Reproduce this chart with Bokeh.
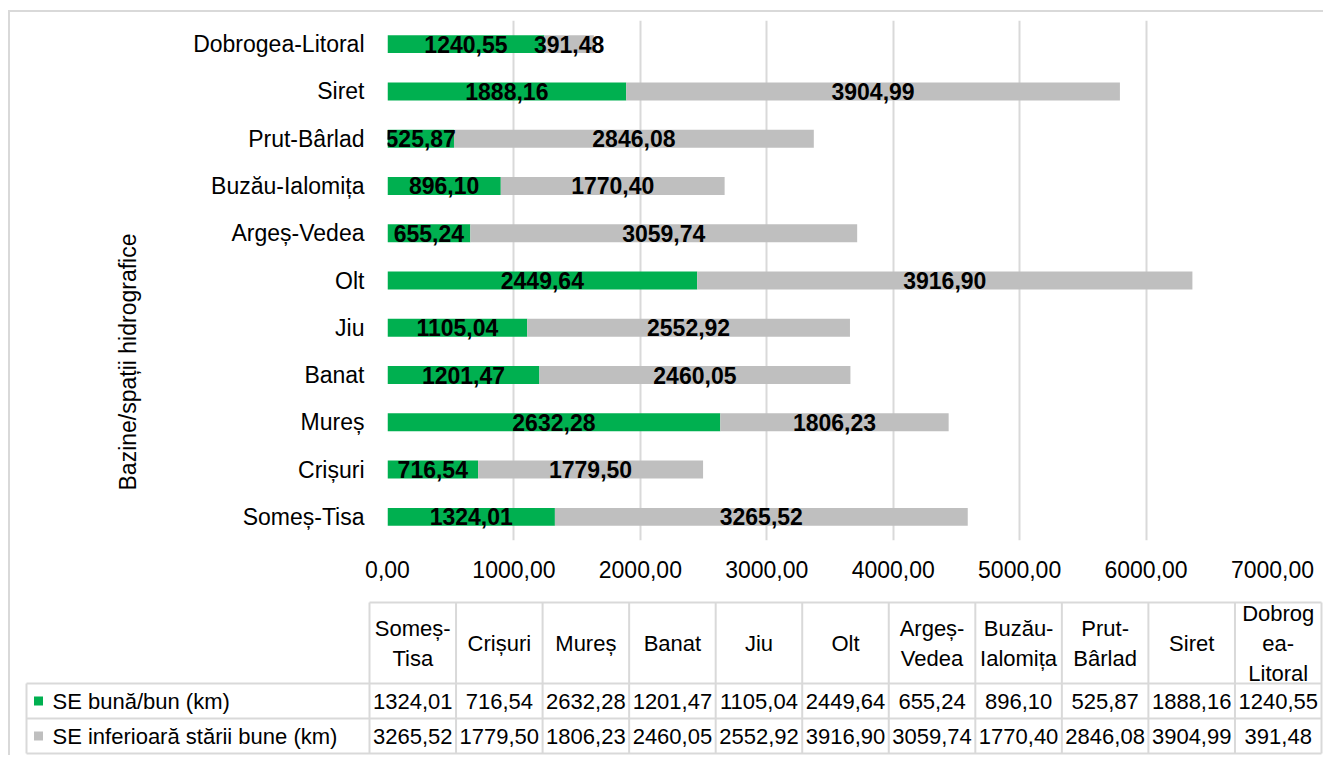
from bokeh.plotting import figure
from bokeh.models import ColumnDataSource, Range1d, FixedTicker, LabelSet, Title
from bokeh.layouts import column
from bokeh.embed import file_html
from bokeh.resources import INLINE
from bokeh.core.properties import value

# ---------------- data ----------------
categories = ["Someș-Tisa", "Crișuri", "Mureș", "Banat", "Jiu", "Olt",
              "Argeș-Vedea", "Buzău-Ialomița", "Prut-Bârlad", "Siret", "Dobrogea-Litoral"]
good = [1324.01, 716.54, 2632.28, 1201.47, 1105.04, 2449.64,
        655.24, 896.10, 525.87, 1888.16, 1240.55]
below = [3265.52, 1779.50, 1806.23, 2460.05, 2552.92, 3916.90,
         3059.74, 1770.40, 2846.08, 3904.99, 391.48]
series_names = ["SE bună/bun (km)", "SE inferioară stării bune (km)"]
axis_title = "Bazine/spații hidrografice"
x_ticks = [0, 1000, 2000, 3000, 4000, 5000, 6000, 7000]

# ---------------- styles ----------------
FONT = "Liberation Sans"
GREEN = "#00b050"
GRAY = "#bfbfbf"
LINE = "#d9d9d9"
W = 1323
HA = 590
HB = 165


def fmt(v):
    return f"{v:.2f}".replace(".", ",")


def wrap(name):
    parts = name.replace("-", "-\n").split("\n")
    out = []
    for p in parts:
        if len(p) > 8:
            out += [p[:6], p[6:]]
        else:
            out.append(p)
    return "\n".join(out)


# ---------------- chart ----------------
total = [g + b for g, b in zip(good, below)]
src = ColumnDataSource(dict(
    cat=categories, good=good, below=below, total=total,
    gmid=[g / 2 for g in good],
    bmid=[g + b / 2 for g, b in zip(good, below)],
    glab=[fmt(g) for g in good],
    blab=[fmt(b) for b in below],
))

pA = figure(width=W, height=HA, y_range=categories, x_range=Range1d(0, 7000),
            output_backend="svg", toolbar_location=None, title=None,
            min_border_left=387, min_border_right=W - 1272, min_border_top=20,
            min_border_bottom=HA - 540)
pA.frame_align = False
pA.border_fill_color = None
pA.background_fill_color = None
pA.outline_line_color = None
pA.ygrid.grid_line_color = None
pA.xgrid.grid_line_color = LINE
pA.xgrid.grid_line_width = 2

pA.xaxis.ticker = FixedTicker(ticks=x_ticks)
pA.xaxis.major_label_overrides = {t: fmt(t) for t in x_ticks}
for ax in (pA.xaxis, pA.yaxis):
    ax.axis_line_color = None
    ax.major_tick_line_color = None
    ax.minor_tick_line_color = None
    ax.major_label_text_font = FONT
    ax.major_label_text_font_size = "23px"
    ax.major_label_text_color = "#000000"
pA.xaxis.major_label_standoff = 14
pA.yaxis.major_label_standoff = 17

pA.hbar(y="cat", left=0, right="good", height=0.38, fill_color=GREEN,
        line_color=None, source=src)
pA.hbar(y="cat", left="good", right="total", height=0.38, fill_color=GRAY,
        line_color=None, source=src)

for xcol, tcol in (("gmid", "glab"), ("bmid", "blab")):
    pA.add_layout(LabelSet(x=xcol, y="cat", text=tcol, source=src,
                           text_align="center", text_baseline="middle",
                           text_font=value(FONT), text_font_style="bold",
                           text_font_size="23px", text_color="#000000"))

pA.add_layout(Title(text=axis_title, align="left", offset=50,
                    text_font=FONT, text_font_size="23px",
                    text_font_style="normal", text_color="#000000",
                    standoff=100), "left")

# ---------------- data table ----------------
pB = figure(width=W, height=HB, x_range=Range1d(0, W), y_range=Range1d(HB, 0),
            output_backend="svg", toolbar_location=None, title=None,
            x_axis_type=None, y_axis_type=None, min_border=0)
pB.frame_align = False
pB.border_fill_color = None
pB.background_fill_color = None
pB.outline_line_color = None
pB.grid.visible = False

n = len(categories)
c0, c1 = 369, 1321
cw = (c1 - c0) / n
y_top, y_h, y_r1, y_r2 = 12, 93, 128, 163
lx = 26

xs0, ys0, xs1, ys1 = [], [], [], []
# horizontal lines
xs0 += [c0, lx, lx, lx]; xs1 += [c1, c1, c1, c1]
ys0 += [y_top, y_h, y_r1, y_r2]; ys1 += [y_top, y_h, y_r1, y_r2]
# vertical lines
for i in range(n + 1):
    xs0.append(c0 + i * cw); xs1.append(c0 + i * cw)
    ys0.append(y_top); ys1.append(y_r2)
xs0.append(lx); xs1.append(lx); ys0.append(y_h); ys1.append(y_r2)
pB.segment(x0=xs0, y0=ys0, x1=xs1, y1=ys1, line_color=LINE, line_width=2)

centers = [c0 + (i + 0.5) * cw for i in range(n)]
pB.text(x=centers, y=[(y_top + y_h) / 2] * n, text=[wrap(c) for c in categories],
        text_align="center", text_baseline="middle", text_font=value(FONT),
        text_font_size="22px", text_color="#000000", text_line_height=1.2)
pB.text(x=centers, y=[(y_h + y_r1) / 2] * n, text=[fmt(v) for v in good],
        text_align="center", text_baseline="middle", text_font=value(FONT),
        text_font_size="22px", text_color="#000000")
pB.text(x=centers, y=[(y_r1 + y_r2) / 2] * n, text=[fmt(v) for v in below],
        text_align="center", text_baseline="middle", text_font=value(FONT),
        text_font_size="22px", text_color="#000000")

row_y = [(y_h + y_r1) / 2, (y_r1 + y_r2) / 2]
pB.scatter(x=[38, 38], y=row_y, marker="square", size=9,
           fill_color=[GREEN, GRAY], line_color=None)
pB.text(x=[52, 52], y=row_y, text=series_names, text_align="left",
        text_baseline="middle", text_font=value(FONT), text_font_size="22px",
        text_color="#000000")

# outer chart-area border (top and left edges), drawn behind the transparent figures
border_bg = ("linear-gradient(#d9d9d9, #d9d9d9) 8px 10px / 2px 100% no-repeat, "
             "linear-gradient(#d9d9d9, #d9d9d9) 8px 10px / 100% 2px no-repeat, #ffffff")
layout = column(pA, pB, styles={"background": border_bg})

open("out.html", "w").write(file_html(layout, INLINE))
